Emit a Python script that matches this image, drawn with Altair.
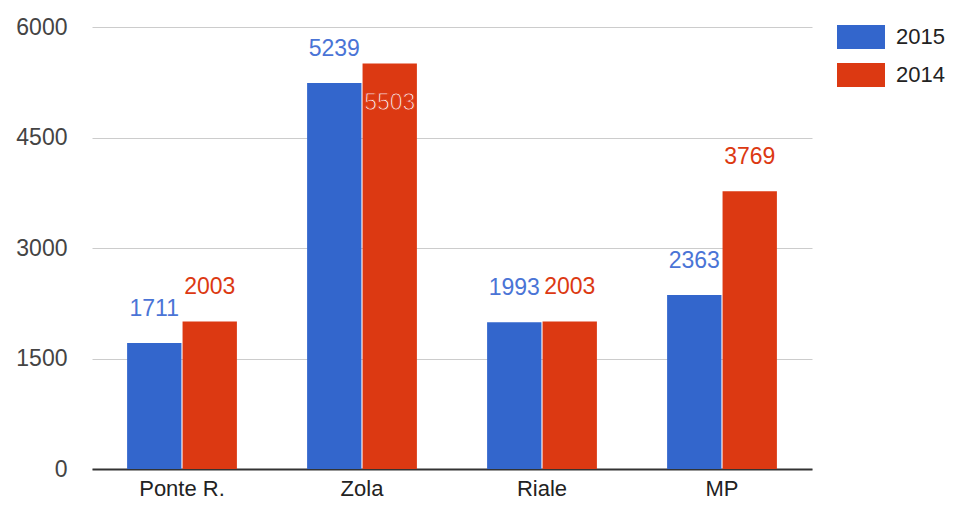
import altair as alt
import pandas as pd

sites = ["Ponte R.", "Zola", "Riale", "MP"]
years = ["2015", "2014"]
v2015 = [1711, 5239, 1993, 2363]
v2014 = [2003, 5503, 2003, 3769]
y_ticks = [0, 1500, 3000, 4500, 6000]

bar_colors = ["#3366cc", "#dc3912"]
label_colors = ["#4a74d6", "#dc3912"]

rows = []
for s, a, b in zip(sites, v2015, v2014):
    rows.append({"site": s, "year": "2015", "value": a})
    rows.append({"site": s, "year": "2014", "value": b})
df = pd.DataFrame(rows)

FONT = "Liberation Sans"

x = alt.X("site:N", sort=sites, title=None,
          scale=alt.Scale(paddingInner=0.39, paddingOuter=0.195),
          axis=alt.Axis(labelAngle=0, labelFontSize=22, labelColor="#222222",
                        labelPadding=9, ticks=False, domainColor="#333333",
                        domainWidth=2, grid=False, labelFont=FONT))
xo = alt.XOffset("year:N", sort=years, scale=alt.Scale(paddingInner=0.02))
y = alt.Y("value:Q", title=None,
          scale=alt.Scale(domain=[0, 6000], nice=False),
          axis=alt.Axis(values=y_ticks, format="d", labelFontSize=23, labelColor="#444444",
                        labelPadding=25, ticks=False, domain=False,
                        gridColor="#cccccc", gridWidth=1, labelFont=FONT))

base = alt.Chart(df)

bars = base.mark_bar().encode(
    x=x, xOffset=xo, y=y,
    color=alt.Color("year:N", sort=years,
                    scale=alt.Scale(domain=years, range=bar_colors),
                    legend=alt.Legend(title=None, orient="none", legendX=745, legendY=-14,
                                      labelFontSize=22, labelColor="#222222", labelFont=FONT,
                                      symbolType="M-1,-0.5H1V0.5H-1Z", symbolSize=2304,
                                      symbolStrokeWidth=0, symbolOpacity=1,
                                      rowPadding=2, labelOffset=11, padding=0)),
)

outside = base.transform_filter("datum.value < 5400").mark_text(
    baseline="alphabetic", dy=-27, fontSize=23, font=FONT
).encode(
    x=x, xOffset=xo, y=y, text="value:Q",
    color=alt.Color("year:N", scale=alt.Scale(domain=years, range=label_colors), legend=None),
)

inside = base.transform_filter("datum.value >= 5400").mark_text(
    baseline="alphabetic", dy=46, fontSize=23, font=FONT, fill="white",
    stroke="#dc3912", strokeWidth=1
).encode(
    x=x, xOffset=xo, y=y, text="value:Q",
)

chart = alt.layer(bars, outside, inside).resolve_scale(color="independent").properties(
    width=720, height=442,
    autosize=alt.AutoSizeParams(type="none"),
    padding={"left": 84, "top": 19, "right": 134, "bottom": 30},
).configure(font=FONT).configure_view(strokeWidth=0, stroke="transparent")

chart.save("out.html", embed_options={"renderer": "svg", "actions": False})
